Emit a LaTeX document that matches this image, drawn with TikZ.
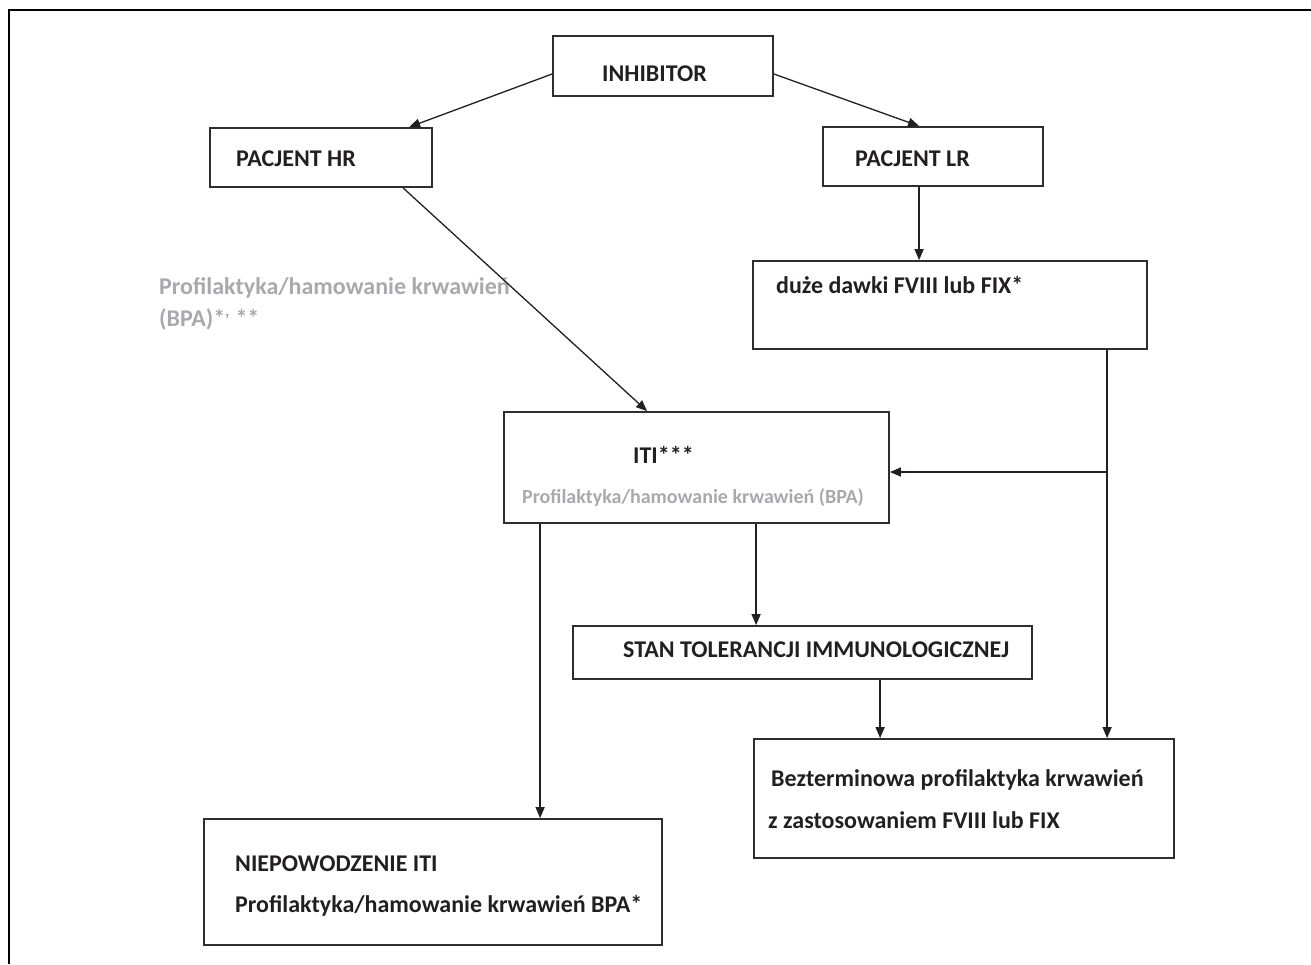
\documentclass[tikz,border=0pt]{standalone}
\usepackage{fontspec}
\setmainfont{Carlito}
\usetikzlibrary{arrows.meta,calc}
\definecolor{boxline}{HTML}{2E2E2E}
\definecolor{txt}{HTML}{231F20}
\definecolor{greytxt}{HTML}{A7A9AC}
\tikzset{
  box/.style={draw=boxline,line width=1.8pt,inner sep=0pt,fill=none},
  lbl/.style={anchor=base west,inner sep=0pt,text=txt,font=\fontsize{24}{28}\selectfont\bfseries},
  glbl/.style={anchor=base west,inner sep=0pt,text=greytxt,font=\fontsize{24}{28}\selectfont\bfseries},
  slbl/.style={anchor=base west,inner sep=0pt,text=greytxt,font=\fontsize{20}{24}\selectfont\bfseries},
  arr/.style={draw=txt,line width=1.3pt,-{Triangle[length=11pt,width=9pt]}},
  frame/.style={draw=black,line width=2pt}
}
\begin{document}
\begin{tikzpicture}[x=1pt,y=-1pt]
\useasboundingbox (0,0) rectangle (1311,964);
% outer frame (open at right and bottom)
\draw[frame] (9,964) -- (9,10) -- (1311,10);
% boxes
\node[box,minimum width=220pt,minimum height=60pt] (inh) at (663,66) {};
\node[box,minimum width=222pt,minimum height=59pt] (hr) at (321,157.5) {};
\node[box,minimum width=220pt,minimum height=59pt] (lr) at (933,156.5) {};
\node[box,minimum width=394pt,minimum height=88pt] (duze) at (950,305) {};
\node[box,minimum width=385pt,minimum height=111pt] (iti) at (696.5,467.5) {};
\node[box,minimum width=459pt,minimum height=53pt] (stan) at (802.5,652.5) {};
\node[box,minimum width=420pt,minimum height=119pt] (bez) at (964,798.5) {};
\node[box,minimum width=458pt,minimum height=126pt] (niep) at (433,882) {};
% texts
\node[lbl] (tinh) at (602,81) {INHIBITOR};
\node[lbl] (thr) at (236,166) {PACJENT HR};
\node[lbl] (tlr) at (855,166) {PACJENT LR};
\node[glbl] (tg1) at (159,294) {Profilaktyka/hamowanie krwawień};
\node[glbl] (tg2) at (159,326) {(BPA)*\textsuperscript{,} **};
\node[lbl] (tduze) at (776,293) {duże dawki FVIII lub FIX*};
\node[lbl] (titi) at (633,463) {ITI***};
\node[slbl] (titig) at (522,503) {Profilaktyka/hamowanie krwawień (BPA)};
\node[lbl] (tstan) at (623,657) {STAN TOLERANCJI IMMUNOLOGICZNEJ};
\node[lbl] (tbez1) at (771,786) {Bezterminowa profilaktyka krwawień};
\node[lbl] (tbez2) at (768,828) {z zastosowaniem FVIII lub FIX};
\node[lbl] (tniep1) at (235,871) {NIEPOWODZENIE ITI};
\node[lbl] (tniep2) at (235,912) {Profilaktyka/hamowanie krwawień BPA*};
% connectors
\draw[arr] ([yshift=-8pt]inh.west) -- ([xshift=200pt]hr.north west);
\draw[arr] ([yshift=-8pt]inh.east) -- ([xshift=97pt]lr.north west);
\draw[arr] ([xshift=194pt]hr.south west) -- ([xshift=144pt]iti.north west);
\draw[arr] ([xshift=97pt]lr.south west) -- ([xshift=167pt]duze.north west);
\coordinate (j) at (1108,472);
\draw[arr] ([xshift=355pt]duze.south west) -- ([xshift=354pt]bez.north west);
\draw[arr] (j) -- (j -| iti.east);
\draw[arr] ([xshift=37pt]iti.south west) -- ([xshift=337pt]niep.north west);
\draw[arr] ([xshift=253pt]iti.south west) -- ([xshift=184pt]stan.north west);
\draw[arr] ([xshift=308pt]stan.south west) -- ([xshift=127pt]bez.north west);
\end{tikzpicture}
\end{document}
